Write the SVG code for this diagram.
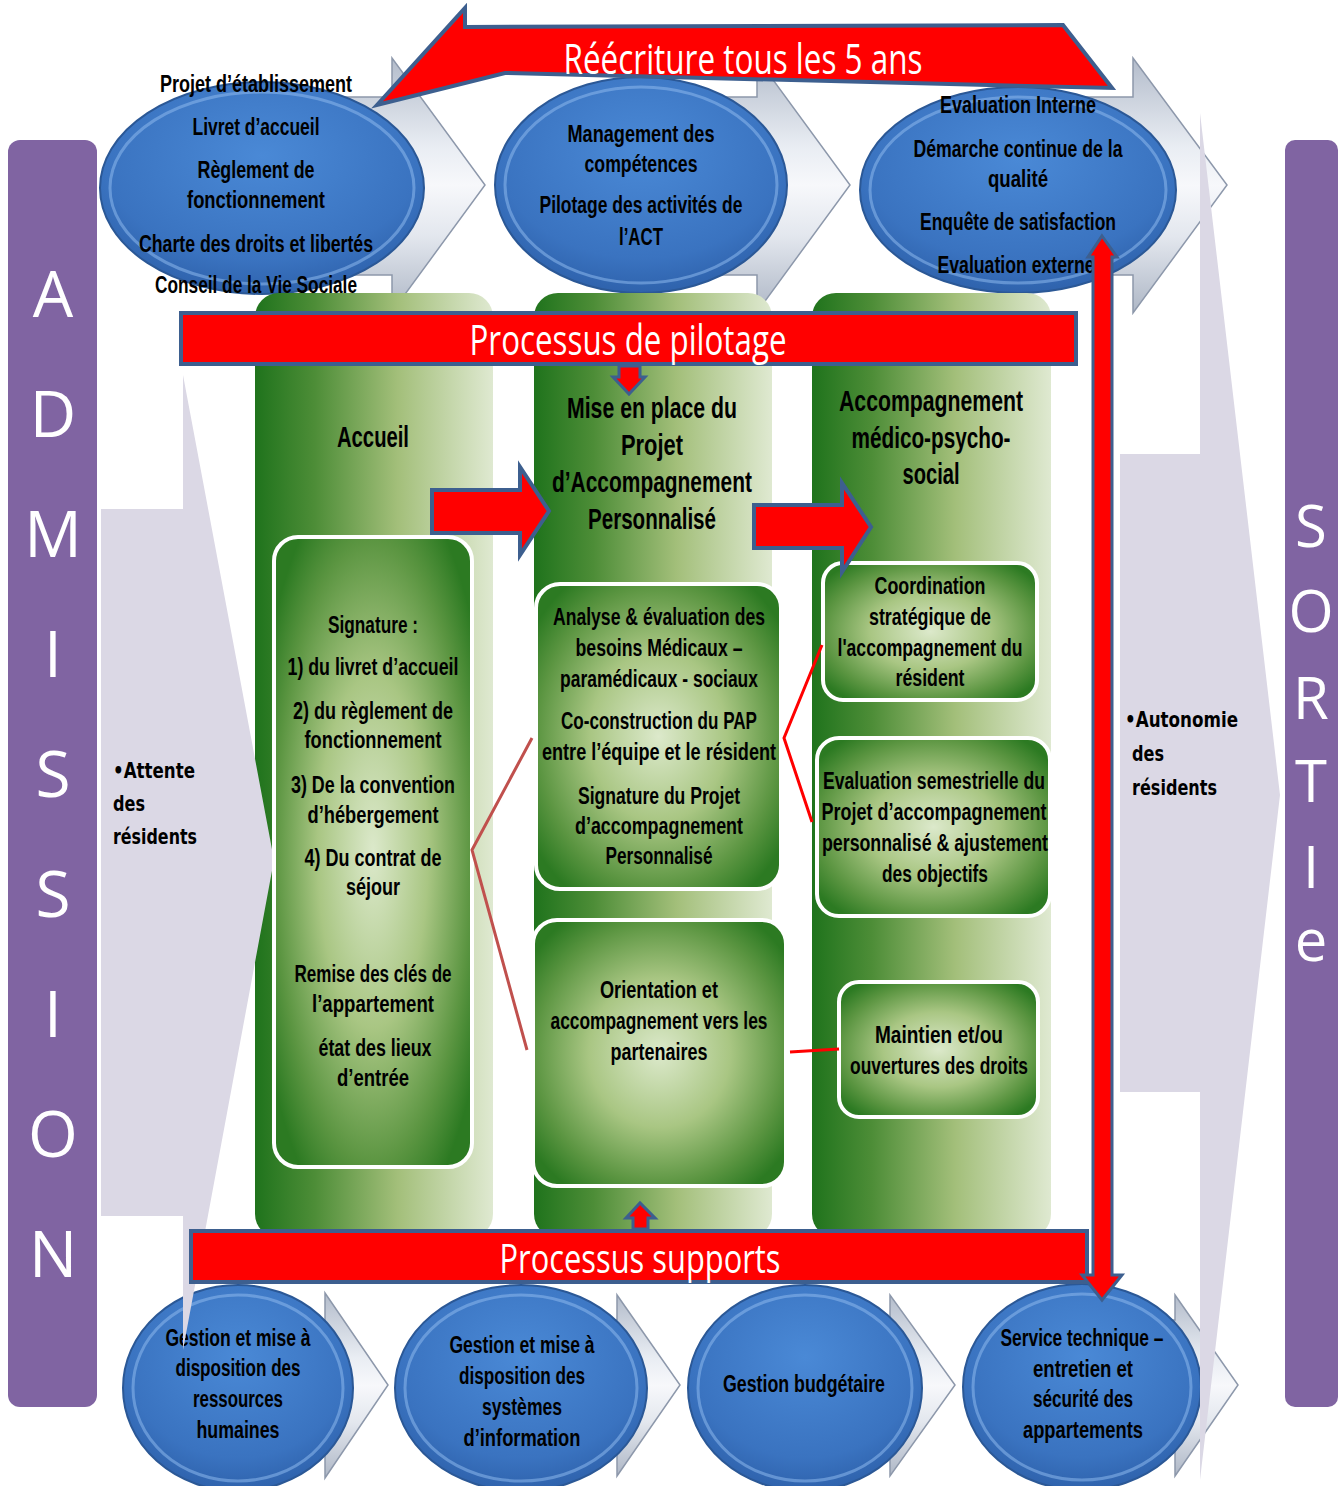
<svg xmlns="http://www.w3.org/2000/svg" width="1343" height="1486" viewBox="0 0 1343 1486">
<defs>
<style>
.t{font-family:"Liberation Sans",Arial,sans-serif;font-weight:700;font-size:23px;fill:#000;text-anchor:middle}
.h{font-family:"Liberation Sans",Arial,sans-serif;font-weight:700;font-size:30px;fill:#000;text-anchor:middle}
.w{font-family:"Open Sans","Liberation Sans",sans-serif;font-weight:400;fill:#fff;text-anchor:middle}
.s{font-family:"DejaVu Sans","Liberation Sans",sans-serif;font-weight:700;font-size:22px;fill:#000}
.purple{fill:#8064a2}
.chev{fill:url(#gChev);stroke:#8d98ab;stroke-width:1.5}
.side{fill:#dbd8e5}
.ell{fill:url(#gBlue);stroke:#2b5896;stroke-width:2}
.rim{fill:none;stroke:#8cb8ec;stroke-width:3;opacity:.55}
.col{fill:url(#gCol)}
.box{fill:url(#gBox);stroke:#fff;stroke-width:4}
.red{fill:#ff0000;stroke:#3d5f8f;stroke-width:4;stroke-linejoin:miter}
.c1{stroke:#c0504d;stroke-width:3;fill:none}
.c2{stroke:#ff0000;stroke-width:3;fill:none}
</style>
<linearGradient id="gChev" x1="0" y1="0" x2="0" y2="1">
<stop offset="0" stop-color="#b3bccb"/><stop offset="0.35" stop-color="#e9edf3"/><stop offset="0.5" stop-color="#f7f8fb"/><stop offset="0.7" stop-color="#e3e7ee"/><stop offset="1" stop-color="#aeb7c6"/>
</linearGradient>
<radialGradient id="gBlue" cx="0.5" cy="0.35" r="0.7">
<stop offset="0" stop-color="#4a89d6"/><stop offset="0.7" stop-color="#3a73c0"/><stop offset="1" stop-color="#2b5da6"/>
</radialGradient>
<linearGradient id="gCol" x1="0" y1="0" x2="1" y2="0">
<stop offset="0" stop-color="#1f731c"/><stop offset="0.25" stop-color="#4d8d37"/><stop offset="0.6" stop-color="#a3bf7a"/><stop offset="1" stop-color="#dfe9d1"/>
</linearGradient>
<radialGradient id="gBox" cx="0.5" cy="0.5" r="0.62">
<stop offset="0" stop-color="#dce9cb"/><stop offset="0.45" stop-color="#a9c683"/><stop offset="0.8" stop-color="#5b9541"/><stop offset="1" stop-color="#2c7a22"/>
</radialGradient>
</defs>
<rect width="1343" height="1486" fill="#fff"/>

<g id="admission">
<rect class="purple" x="8" y="140" width="89" height="1267" rx="12"/>
<g class="w" style="font-size:64px">
<text x="53" y="317">A</text><text x="53" y="437">D</text><text x="53" y="557">M</text><text x="53" y="677">I</text><text x="53" y="797">S</text><text x="53" y="917">S</text><text x="53" y="1037">I</text><text x="53" y="1157">O</text><text x="53" y="1277">N</text>
</g>
</g>
<g id="sortie">
<rect class="purple" x="1285" y="140" width="53" height="1267" rx="10"/>
<g class="w" style="font-size:58px">
<text x="1311" y="547">S</text><text x="1311" y="632">O</text><text x="1311" y="719">R</text><text x="1311" y="802">T</text><text x="1311" y="888">I</text><text x="1311" y="961">e</text>
</g>
</g>

<g id="chevrons-top">
<path class="chev" d="M300,97 H392 V58 L485,185 L392,312 V275 H300 Z"/>
<path class="chev" d="M680,97 H757 V58 L850,185 L757,312 V275 H680 Z"/>
<path class="chev" d="M1050,97 H1133 V58 L1227,185 L1133,313 V275 H1050 Z"/>
</g>
<g id="chevrons-bottom">
<path class="chev" d="M280,1320 H325 V1293 L388,1385 L325,1478 V1450 H280 Z"/>
<path class="chev" d="M570,1320 H617 V1295 L680,1385 L617,1476 V1450 H570 Z"/>
<path class="chev" d="M850,1320 H890 V1295 L955,1385 L890,1476 V1450 H850 Z"/>
<path class="chev" d="M1130,1320 H1175 V1295 L1238,1385 L1175,1476 V1450 H1130 Z"/>
</g>

<g id="ellipse-etablissement">
<ellipse class="ell" cx="262" cy="188" rx="162" ry="106"/>
<ellipse class="rim" cx="262" cy="188" rx="152" ry="96"/>
<text class="t" x="256" y="92" textLength="192" lengthAdjust="spacingAndGlyphs">Projet d’établissement</text>
<text class="t" x="256" y="135" textLength="127" lengthAdjust="spacingAndGlyphs">Livret d’accueil</text>
<text class="t" x="256" y="178" textLength="117" lengthAdjust="spacingAndGlyphs">Règlement de</text>
<text class="t" x="256" y="208" textLength="138" lengthAdjust="spacingAndGlyphs">fonctionnement</text>
<text class="t" x="256" y="252" textLength="234" lengthAdjust="spacingAndGlyphs">Charte des droits et libertés</text>
<text class="t" x="256" y="293" textLength="202" lengthAdjust="spacingAndGlyphs">Conseil de la Vie Sociale</text>
</g>
<g id="ellipse-management">
<ellipse class="ell" cx="641" cy="185" rx="146" ry="108"/>
<ellipse class="rim" cx="641" cy="185" rx="136" ry="98"/>
<text class="t" x="641" y="142" textLength="147" lengthAdjust="spacingAndGlyphs">Management des</text>
<text class="t" x="641" y="172" textLength="113" lengthAdjust="spacingAndGlyphs">compétences</text>
<text class="t" x="641" y="213" textLength="203" lengthAdjust="spacingAndGlyphs">Pilotage des activités de</text>
<text class="t" x="641" y="245" textLength="44" lengthAdjust="spacingAndGlyphs">l’ACT</text>
</g>
<g id="ellipse-evaluation">
<ellipse class="ell" cx="1018" cy="190" rx="158" ry="103"/>
<ellipse class="rim" cx="1018" cy="190" rx="148" ry="93"/>
<text class="t" x="1018" y="113" textLength="156" lengthAdjust="spacingAndGlyphs">Evaluation Interne</text>
<text class="t" x="1018" y="157" textLength="209" lengthAdjust="spacingAndGlyphs">Démarche continue de la</text>
<text class="t" x="1018" y="187" textLength="60" lengthAdjust="spacingAndGlyphs">qualité</text>
<text class="t" x="1018" y="230" textLength="196" lengthAdjust="spacingAndGlyphs">Enquête de satisfaction</text>
<text class="t" x="1016" y="273" textLength="157" lengthAdjust="spacingAndGlyphs">Evaluation externe</text>
</g>

<g id="circle-rh">
<ellipse class="ell" cx="238" cy="1388" rx="115" ry="103"/>
<ellipse class="rim" cx="238" cy="1388" rx="105" ry="93"/>
<text class="t" x="238" y="1346" textLength="145" lengthAdjust="spacingAndGlyphs">Gestion et mise à</text>
<text class="t" x="238" y="1376" textLength="125" lengthAdjust="spacingAndGlyphs">disposition des</text>
<text class="t" x="238" y="1407" textLength="90" lengthAdjust="spacingAndGlyphs">ressources</text>
<text class="t" x="238" y="1438" textLength="83" lengthAdjust="spacingAndGlyphs">humaines</text>
</g>
<g id="circle-si">
<ellipse class="ell" cx="521" cy="1388" rx="126" ry="103"/>
<ellipse class="rim" cx="521" cy="1388" rx="116" ry="93"/>
<text class="t" x="522" y="1353" textLength="145" lengthAdjust="spacingAndGlyphs">Gestion et mise à</text>
<text class="t" x="522" y="1384" textLength="126" lengthAdjust="spacingAndGlyphs">disposition des</text>
<text class="t" x="522" y="1415" textLength="80" lengthAdjust="spacingAndGlyphs">systèmes</text>
<text class="t" x="522" y="1446" textLength="117" lengthAdjust="spacingAndGlyphs">d’information</text>
</g>
<g id="circle-budget">
<ellipse class="ell" cx="805" cy="1388" rx="117" ry="103"/>
<ellipse class="rim" cx="805" cy="1388" rx="107" ry="93"/>
<text class="t" x="804" y="1392" textLength="162" lengthAdjust="spacingAndGlyphs">Gestion budgétaire</text>
</g>
<g id="circle-technique">
<ellipse class="ell" cx="1082" cy="1387" rx="119" ry="103"/>
<ellipse class="rim" cx="1082" cy="1387" rx="109" ry="93"/>
<text class="t" x="1082" y="1346" textLength="163" lengthAdjust="spacingAndGlyphs">Service technique –</text>
<text class="t" x="1083" y="1377" textLength="100" lengthAdjust="spacingAndGlyphs">entretien et</text>
<text class="t" x="1083" y="1407" textLength="100" lengthAdjust="spacingAndGlyphs">sécurité des</text>
<text class="t" x="1083" y="1438" textLength="120" lengthAdjust="spacingAndGlyphs">appartements</text>
</g>

<g id="col-accueil">
<rect class="col" x="255" y="293" width="238" height="945" rx="24"/>
<text class="h" x="373" y="447" textLength="72" lengthAdjust="spacingAndGlyphs">Accueil</text>
</g>
<g id="col-pap">
<rect class="col" x="534" y="293" width="238" height="945" rx="24"/>
<text class="h" x="652" y="418" textLength="170" lengthAdjust="spacingAndGlyphs">Mise en place du</text>
<text class="h" x="652" y="455" textLength="62" lengthAdjust="spacingAndGlyphs">Projet</text>
<text class="h" x="652" y="492" textLength="200" lengthAdjust="spacingAndGlyphs">d’Accompagnement</text>
<text class="h" x="652" y="529" textLength="128" lengthAdjust="spacingAndGlyphs">Personnalisé</text>
</g>
<g id="col-accompagnement">
<rect class="col" x="812" y="293" width="239" height="945" rx="24"/>
<text class="h" x="931" y="411" textLength="184" lengthAdjust="spacingAndGlyphs">Accompagnement</text>
<text class="h" x="931" y="448" textLength="159" lengthAdjust="spacingAndGlyphs">médico-psycho-</text>
<text class="h" x="931" y="484" textLength="57" lengthAdjust="spacingAndGlyphs">social</text>
</g>

<g id="entree">
<path class="side" d="M101,509 H183 V375 L274,860 L183,1350 V1216 H101 Z"/>
<text class="s" x="113" y="778" textLength="82" lengthAdjust="spacingAndGlyphs">•Attente</text>
<text class="s" x="113" y="811" textLength="32" lengthAdjust="spacingAndGlyphs">des</text>
<text class="s" x="113" y="844" textLength="84" lengthAdjust="spacingAndGlyphs">résidents</text>
</g>
<g id="sortie-fleche">
<path class="side" d="M1120,454 H1200 V113 L1280,795 L1200,1480 V1092 H1120 Z"/>
<text class="s" x="1125" y="727" textLength="113" lengthAdjust="spacingAndGlyphs">•Autonomie</text>
<text class="s" x="1132" y="761" textLength="32" lengthAdjust="spacingAndGlyphs">des</text>
<text class="s" x="1132" y="795" textLength="85" lengthAdjust="spacingAndGlyphs">résidents</text>
</g>

<g id="box-signature">
<rect class="box" x="274" y="537" width="198" height="630" rx="24"/>
<text class="t" x="373" y="633" textLength="90" lengthAdjust="spacingAndGlyphs">Signature :</text>
<text class="t" x="373" y="675" textLength="171" lengthAdjust="spacingAndGlyphs">1) du livret d’accueil</text>
<text class="t" x="373" y="719" textLength="160" lengthAdjust="spacingAndGlyphs">2) du règlement de</text>
<text class="t" x="373" y="748" textLength="137" lengthAdjust="spacingAndGlyphs">fonctionnement</text>
<text class="t" x="373" y="793" textLength="164" lengthAdjust="spacingAndGlyphs">3) De la convention</text>
<text class="t" x="373" y="823" textLength="131" lengthAdjust="spacingAndGlyphs">d’hébergement</text>
<text class="t" x="373" y="866" textLength="137" lengthAdjust="spacingAndGlyphs">4) Du contrat de</text>
<text class="t" x="373" y="895" textLength="54" lengthAdjust="spacingAndGlyphs">séjour</text>
<text class="t" x="373" y="982" textLength="157" lengthAdjust="spacingAndGlyphs">Remise des clés de</text>
<text class="t" x="373" y="1012" textLength="122" lengthAdjust="spacingAndGlyphs">l’appartement</text>
<text class="t" x="375" y="1056" textLength="113" lengthAdjust="spacingAndGlyphs">état des lieux</text>
<text class="t" x="373" y="1086" textLength="72" lengthAdjust="spacingAndGlyphs">d’entrée</text>
</g>
<g id="box-analyse">
<rect class="box" x="536" y="584" width="245" height="305" rx="24"/>
<text class="t" x="659" y="625" textLength="212" lengthAdjust="spacingAndGlyphs">Analyse &amp; évaluation des</text>
<text class="t" x="659" y="656" textLength="167" lengthAdjust="spacingAndGlyphs">besoins Médicaux –</text>
<text class="t" x="659" y="687" textLength="198" lengthAdjust="spacingAndGlyphs">paramédicaux - sociaux</text>
<text class="t" x="659" y="729" textLength="196" lengthAdjust="spacingAndGlyphs">Co-construction du PAP</text>
<text class="t" x="659" y="760" textLength="234" lengthAdjust="spacingAndGlyphs">entre l’équipe et le résident</text>
<text class="t" x="659" y="804" textLength="162" lengthAdjust="spacingAndGlyphs">Signature du Projet</text>
<text class="t" x="659" y="834" textLength="168" lengthAdjust="spacingAndGlyphs">d’accompagnement</text>
<text class="t" x="659" y="864" textLength="107" lengthAdjust="spacingAndGlyphs">Personnalisé</text>
</g>
<g id="box-orientation">
<rect class="box" x="533" y="920" width="253" height="266" rx="24"/>
<text class="t" x="659" y="998" textLength="118" lengthAdjust="spacingAndGlyphs">Orientation et</text>
<text class="t" x="659" y="1029" textLength="217" lengthAdjust="spacingAndGlyphs">accompagnement vers les</text>
<text class="t" x="659" y="1060" textLength="97" lengthAdjust="spacingAndGlyphs">partenaires</text>
</g>
<g id="box-coordination">
<rect class="box" x="823" y="563" width="214" height="137" rx="20"/>
<text class="t" x="930" y="594" textLength="111" lengthAdjust="spacingAndGlyphs">Coordination</text>
<text class="t" x="930" y="625" textLength="122" lengthAdjust="spacingAndGlyphs">stratégique de</text>
<text class="t" x="930" y="656" textLength="185" lengthAdjust="spacingAndGlyphs">l'accompagnement du</text>
<text class="t" x="930" y="686" textLength="69" lengthAdjust="spacingAndGlyphs">résident</text>
</g>
<g id="box-evaluation">
<rect class="box" x="817" y="738" width="233" height="178" rx="22"/>
<text class="t" x="934" y="789" textLength="222" lengthAdjust="spacingAndGlyphs">Evaluation semestrielle du</text>
<text class="t" x="934" y="820" textLength="225" lengthAdjust="spacingAndGlyphs">Projet  d’accompagnement</text>
<text class="t" x="935" y="851" textLength="226" lengthAdjust="spacingAndGlyphs">personnalisé &amp; ajustement</text>
<text class="t" x="935" y="882" textLength="106" lengthAdjust="spacingAndGlyphs">des objectifs</text>
</g>
<g id="box-droits">
<rect class="box" x="839" y="982" width="199" height="135" rx="20"/>
<text class="t" x="939" y="1043" textLength="128" lengthAdjust="spacingAndGlyphs">Maintien et/ou</text>
<text class="t" x="939" y="1074" textLength="178" lengthAdjust="spacingAndGlyphs">ouvertures des droits</text>
</g>

<g id="bar-pilotage">
<rect class="red" x="181" y="313" width="895" height="51"/>
<text class="w" x="628" y="355" style="font-size:42px" textLength="317" lengthAdjust="spacingAndGlyphs">Processus de pilotage</text>
</g>
<g id="bar-supports">
<rect class="red" x="191" y="1231" width="896" height="51"/>
<text class="w" x="640" y="1273" style="font-size:40px" textLength="281" lengthAdjust="spacingAndGlyphs">Processus supports</text>
</g>

<g id="connectors">
<path class="red" d="M377,105 L465,8 V27 L1063,25 L1112,88 L505,73 Z"/>
<text class="w" x="743" y="74" style="font-size:42px" textLength="359" lengthAdjust="spacingAndGlyphs">Réécriture tous les 5 ans</text>
<path class="red" style="stroke-width:3" d="M619,366 V377 H613 L629,394 L645,377 H640 V366 Z"/>
<path class="red" style="stroke-width:3" d="M633,1229 V1218 H626 L640,1203 L655,1218 H648 V1229 Z"/>
<path class="red" d="M432,490 H520 V467 L549,511 L520,555 V533 H432 Z"/>
<path class="red" d="M754,505 H842 V483 L871,527 L842,572 V548 H754 Z"/>
<path class="red" style="stroke-width:3" d="M1102,236 L1117,257 H1112 V1275 H1122 L1102,1300 L1082,1275 H1093 V257 H1088 Z"/>
<polyline class="c1" points="532,738 472,850 527,1050"/>
<polyline class="c2" points="822,645 784,738 812,822"/>
<line class="c2" x1="790" y1="1052" x2="839" y2="1049"/>
</g>
</svg>
